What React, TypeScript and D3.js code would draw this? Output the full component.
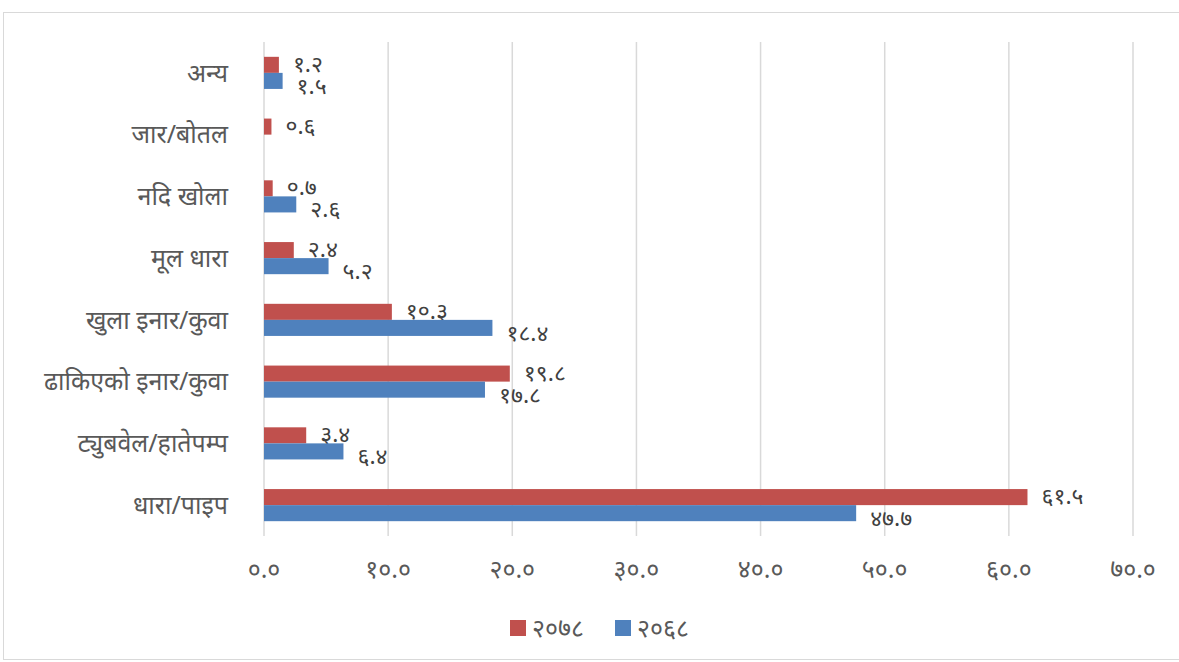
import React from "react";
import * as d3 from "d3";

const categories = [
  "अन्य",
  "जार/बोतल",
  "नदि खोला",
  "मूल धारा",
  "खुला इनार/कुवा",
  "ढाकिएको इनार/कुवा",
  "ट्युबवेल/हातेपम्प",
  "धारा/पाइप",
];
const seriesNames = ["२०७८", "२०६८"];
const values2078 = [1.2, 0.6, 0.7, 2.4, 10.3, 19.8, 3.4, 61.5];
const values2068: (number | null)[] = [1.5, null, 2.6, 5.2, 18.4, 17.8, 6.4, 47.7];
const tickValues = [0, 10, 20, 30, 40, 50, 60, 70];
const colors = ["#C0504D", "#4F81BD"];

const devDigits = "०१२३४५६७८९";
const toDev = (s: string) => s.replace(/[0-9]/g, (d) => devDigits[+d]);
const fmt = (v: number) => toDev(v.toFixed(1));

const W = 1179;
const H = 662;
const plot = { left: 264, right: 1133, top: 42, bottom: 536 };
const font = "'Noto Sans', 'Noto Sans Devanagari', sans-serif";
const textColor = "#595959";

export default function App() {
  const x = d3.scaleLinear().domain([0, 70]).range([plot.left, plot.right]);
  const y = d3
    .scaleBand<string>()
    .domain(categories)
    .range([plot.top, plot.bottom])
    .paddingInner(0.48)
    .paddingOuter(0.24);
  const sub = d3
    .scaleBand<string>()
    .domain(seriesNames)
    .range([0, y.bandwidth()]);

  const series = [values2078, values2068];

  return (
    <svg
      width={W}
      height={H}
      style={{ position: "absolute", left: 0, top: 0, background: "#fff" }}
    >
      <rect x={3.5} y={12.5} width={1180} height={647} fill="#fff" stroke="#d9d9d9" />
      {tickValues.map((t) => (
        <g key={t}>
          <line
            x1={x(t)}
            x2={x(t)}
            y1={plot.top}
            y2={plot.bottom}
            stroke="#d9d9d9"
            strokeWidth={1.5}
          />
          <text
            x={x(t)}
            y={578}
            textAnchor="middle"
            fontFamily={font}
            fontSize={25}
            fill={textColor}
          >
            {fmt(t)}
          </text>
        </g>
      ))}
      {categories.map((c) => (
        <text
          key={c}
          x={plot.left - 36}
          y={(y(c) ?? 0) + y.bandwidth() / 2}
          dy="0.35em"
          textAnchor="end"
          fontFamily={font}
          fontSize={25}
          fill={textColor}
        >
          {c}
        </text>
      ))}
      {series.map((vals, si) =>
        vals.map((v, i) => {
          if (v == null) return null;
          const by = (y(categories[i]) ?? 0) + (sub(seriesNames[si]) ?? 0);
          return (
            <g key={si + "-" + i}>
              <rect
                x={x(0)}
                y={by}
                width={x(v) - x(0)}
                height={sub.bandwidth()}
                fill={colors[si]}
              />
              <text
                x={x(v) + 14}
                y={by + sub.bandwidth() / 2 + (si === 0 ? -1 : 5)}
                dy="0.35em"
                fontFamily={font}
                fontSize={23}
                fill="#404040"
              >
                {fmt(v)}
              </text>
            </g>
          );
        })
      )}
      {seriesNames.map((s, i) => {
        const lx = 510 + i * 105;
        return (
          <g key={s}>
            <rect x={lx} y={620} width={16} height={16} fill={colors[i]} />
            <text
              x={lx + 22}
              y={628}
              dy="0.35em"
              fontFamily={font}
              fontSize={25}
              fill={textColor}
            >
              {s}
            </text>
          </g>
        );
      })}
    </svg>
  );
}
